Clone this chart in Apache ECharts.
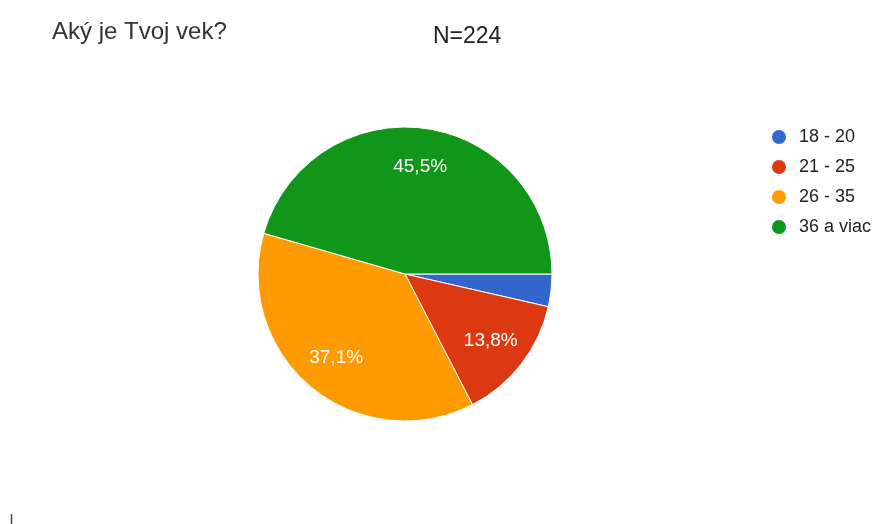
<!DOCTYPE html>
<html>
<head>
<meta charset="utf-8">
<script src="https://cdn.jsdelivr.net/npm/echarts@6/dist/echarts.min.js"></script>
<style>
  html, body { margin: 0; padding: 0; background: #fff; }
  #chart { width: 877px; height: 524px; }
</style>
</head>
<body>
<div id="chart"></div>
<script>
// Age groups of respondents (N = 224)
const categories = ['18 - 20', '21 - 25', '26 - 35', '36 a viac'];
const counts = [8, 31, 83, 102];
const colors = ['#3366cc', '#dc3912', '#ff9900', '#109618'];
const questionTitle = 'Aký je Tvoj vek?';
const sampleText = 'N=224';

const total = counts.reduce((a, b) => a + b, 0);
const pieData = categories.map((name, i) => ({
  name: name,
  value: counts[i],
  itemStyle: { color: colors[i] }
}));

// Slovak-style percentage: one decimal, comma separator
function pctLabel(value) {
  const p = value / total * 100;
  if (p < 5) return '';
  return p.toFixed(1).replace('.', ',') + '%';
}

const FONT = '"Liberation Sans", Arial, sans-serif';
const CENTER = [405, 274];
const R = 147;

const chart = echarts.init(document.getElementById('chart'), null, { renderer: 'canvas' });
chart.setOption({
  backgroundColor: '#ffffff',
  animation: false,
  title: [
    {
      text: questionTitle,
      left: 47, top: 15,
      textStyle: { fontFamily: FONT, fontSize: 24, fontWeight: 'normal', color: '#333333' }
    },
    {
      text: sampleText,
      left: 428, top: 20,
      textStyle: { fontFamily: FONT, fontSize: 23, fontWeight: 'normal', color: '#222222' }
    }
  ],
  legend: {
    orient: 'vertical',
    left: 765, top: 123,
    icon: 'circle',
    itemWidth: 16, itemHeight: 16,
    itemGap: 12,
    data: categories,
    textStyle: { fontFamily: FONT, fontSize: 18, lineHeight: 18, color: '#222222', padding: [0, 0, 0, 7] }
  },
  series: [
    {
      type: 'pie',
      center: CENTER,
      radius: R,
      startAngle: 0,
      clockwise: true,
      data: pieData,
      label: { show: false },
      labelLine: { show: false },
      itemStyle: { borderColor: '#ffffff', borderWidth: 1 },
      emphasis: { disabled: true }
    },
    {
      // ring used only to place the percentage labels deeper in each slice
      type: 'pie',
      center: CENTER,
      radius: [64, R],
      startAngle: 0,
      clockwise: true,
      silent: true,
      data: categories.map((name, i) => ({ name: name, value: counts[i] })),
      itemStyle: { color: 'rgba(0,0,0,0)', borderWidth: 0 },
      label: {
        show: true,
        position: 'inside',
        formatter: p => pctLabel(p.value),
        fontFamily: FONT,
        fontSize: 19,
        color: '#ffffff'
      },
      labelLine: { show: false },
      emphasis: { disabled: true }
    }
  ],
  graphic: [
    {
      type: 'line',
      shape: { x1: 11.5, y1: 514, x2: 11.5, y2: 524 },
      style: { stroke: '#444444', lineWidth: 1.5 }
    }
  ]
});
</script>
</body>
</html>
